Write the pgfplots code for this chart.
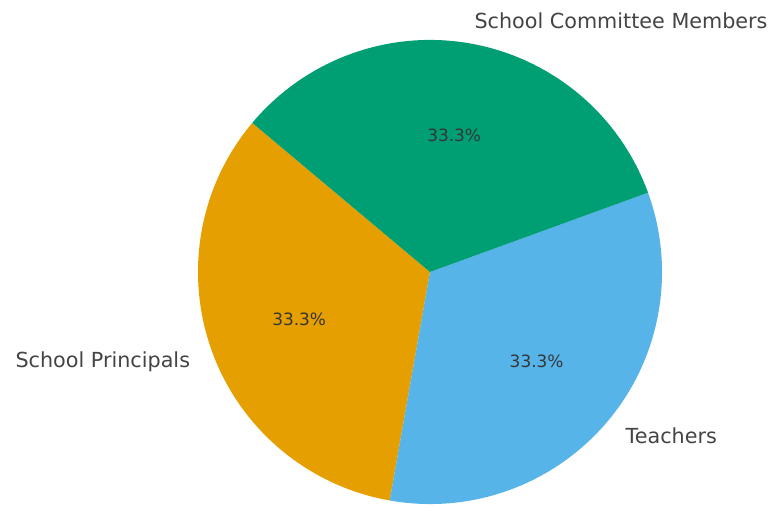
\documentclass[border=0pt]{standalone}
\usepackage{pgfplots}
\usepackage{pgfplotstable}
\pgfplotsset{compat=1.18}
\usepackage{fontspec}
\setmainfont{DejaVu Sans}
\definecolor{cgreen}{HTML}{009E73}
\definecolor{corange}{HTML}{E69F00}
\definecolor{cblue}{HTML}{56B4E9}
\definecolor{ctext}{HTML}{444444}
\pgfplotstableread[col sep=comma]{
label,value
School Principals,33.3
Teachers,33.3
School Committee Members,33.3
}\piedata
\begin{document}
\begin{tikzpicture}
\pgfplotstablegetelem{0}{value}\of\piedata\let\va\pgfplotsretval
\pgfplotstablegetelem{1}{value}\of\piedata\let\vb\pgfplotsretval
\pgfplotstablegetelem{2}{value}\of\piedata\let\vc\pgfplotsretval
\pgfmathsetmacro{\tot}{\va+\vb+\vc}
\pgfmathsetmacro{\aA}{140}
\pgfmathsetmacro{\aB}{\aA+360*\va/\tot}
\pgfmathsetmacro{\aC}{\aB+360*\vb/\tot}
\pgfmathsetmacro{\aD}{\aC+360*\vc/\tot}
\pgfmathsetmacro{\mA}{(\aA+\aB)/2}
\pgfmathsetmacro{\mB}{(\aB+\aC)/2}
\pgfmathsetmacro{\mC}{(\aC+\aD)/2}
\begin{axis}[
  scale only axis, width=773bp, height=507bp,
  xmin=0, xmax=773, ymin=0, ymax=507,
  hide axis, clip=false,
]
\path (axis cs:0,0) rectangle (axis cs:773,507);
\fill[corange] (axis cs:430,235) -- ++(\aA:232bp) arc[start angle=\aA, end angle=\aB, radius=232bp] -- cycle;
\fill[cblue] (axis cs:430,235) -- ++(\aB:232bp) arc[start angle=\aB, end angle=\aC, radius=232bp] -- cycle;
\fill[cgreen] (axis cs:430,235) -- ++(\aC:232bp) arc[start angle=\aC, end angle=\aD, radius=232bp] -- cycle;
\node[text=ctext!80!black, font=\fontsize{17}{20}\selectfont] at ([shift={(\mA:139.2bp)}]axis cs:430,235) {33.3\%};
\node[text=ctext!80!black, font=\fontsize{17}{20}\selectfont] at ([shift={(\mB:139.2bp)}]axis cs:430,235) {33.3\%};
\node[text=ctext!80!black, font=\fontsize{17}{20}\selectfont] at ([shift={(\mC:139.2bp)}]axis cs:430,235) {33.3\%};
\node[text=ctext, anchor=east, inner sep=0pt, font=\fontsize{20.8}{24}\selectfont] at ([shift={(\mA:255.2bp)},yshift=-2bp]axis cs:430,235) {School Principals};
\node[text=ctext, anchor=west, inner sep=0pt, font=\fontsize{20.8}{24}\selectfont] at ([shift={(\mB:255.2bp)}]axis cs:430,235) {Teachers};
\node[text=ctext, anchor=west, inner sep=0pt, font=\fontsize{20.8}{24}\selectfont] at ([shift={(\mC:255.2bp)}]axis cs:430,235) {School Committee Members};
\end{axis}
\end{tikzpicture}
\end{document}
